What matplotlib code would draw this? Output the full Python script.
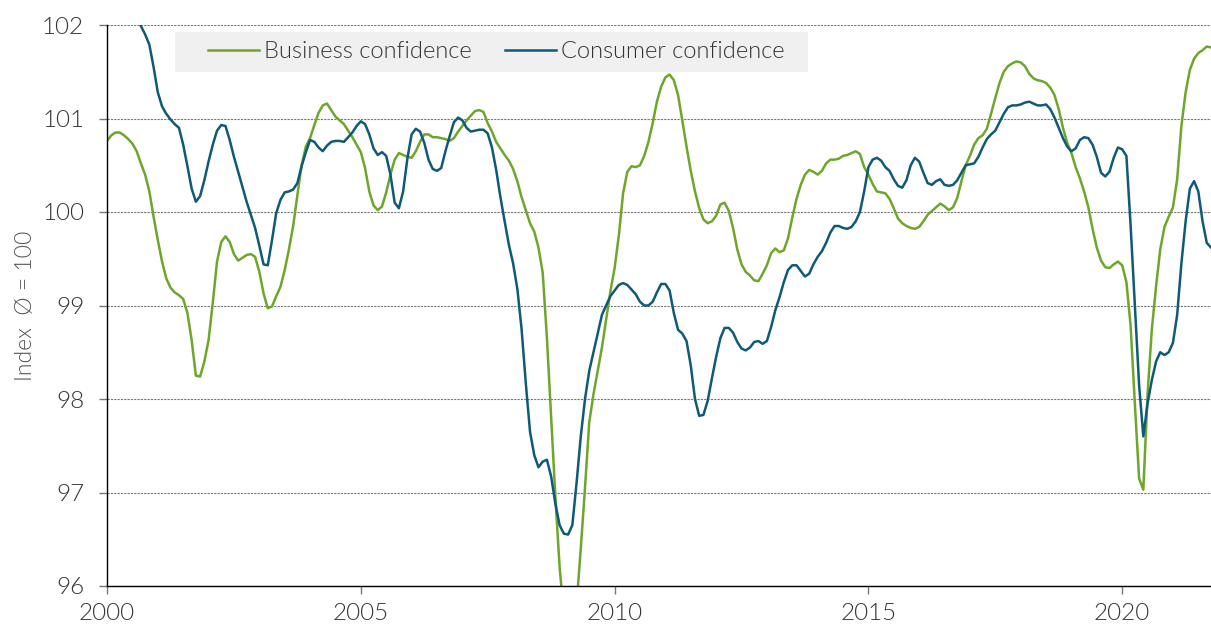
import os

import matplotlib.pyplot as plt
import numpy as np
from matplotlib import font_manager
from matplotlib.patches import Rectangle

# monthly index values, Jan 2000 .. Oct 2021
business = [
    # 2000
    100.76, 100.82, 100.85, 100.85, 100.82, 100.78, 100.73, 100.65, 100.52, 100.40, 100.22, 99.95,
    # 2001
    99.70, 99.47, 99.29, 99.19, 99.14, 99.11, 99.07, 98.92, 98.63, 98.25, 98.24, 98.40,
    # 2002
    98.63, 99.03, 99.47, 99.68, 99.74, 99.68, 99.55, 99.48, 99.51, 99.54, 99.55, 99.52,
    # 2003
    99.36, 99.13, 98.97, 98.99, 99.10, 99.20, 99.38, 99.60, 99.85, 100.18, 100.50, 100.70,
    # 2004
    100.79, 100.93, 101.06, 101.14, 101.16, 101.09, 101.02, 100.98, 100.94, 100.87, 100.80, 100.72,
    # 2005
    100.64, 100.47, 100.22, 100.07, 100.02, 100.06, 100.21, 100.40, 100.56, 100.63, 100.61, 100.59,
    # 2006
    100.58, 100.65, 100.75, 100.83, 100.83, 100.80, 100.80, 100.79, 100.78, 100.76, 100.79, 100.86,
    # 2007
    100.92, 100.98, 101.03, 101.08, 101.09, 101.07, 100.95, 100.86, 100.75, 100.68, 100.61, 100.55,
    # 2008
    100.46, 100.33, 100.16, 100.02, 99.88, 99.79, 99.62, 99.35, 98.65, 97.80, 96.95, 96.20,
    # 2009
    95.70, 95.50, 95.50, 95.80, 96.40, 97.05, 97.75, 98.05, 98.30, 98.55, 98.85, 99.15,
    # 2010
    99.40, 99.75, 100.20, 100.43, 100.49, 100.48, 100.50, 100.60, 100.75, 100.95, 101.18, 101.34,
    # 2011
    101.44, 101.47, 101.41, 101.25, 100.98, 100.70, 100.44, 100.22, 100.04, 99.92, 99.88, 99.90,
    # 2012
    99.96, 100.08, 100.10, 100.01, 99.83, 99.60, 99.44, 99.36, 99.32, 99.27, 99.26, 99.34,
    # 2013
    99.43, 99.56, 99.61, 99.57, 99.59, 99.72, 99.94, 100.14, 100.29, 100.40, 100.45, 100.43,
    # 2014
    100.40, 100.44, 100.52, 100.56, 100.56, 100.57, 100.60, 100.61, 100.63, 100.65, 100.62, 100.48,
    # 2015
    100.40, 100.30, 100.22, 100.21, 100.20, 100.14, 100.04, 99.93, 99.88, 99.85, 99.83, 99.82,
    # 2016
    99.84, 99.90, 99.97, 100.01, 100.05, 100.09, 100.06, 100.02, 100.05, 100.15, 100.33, 100.50,
    # 2017
    100.60, 100.72, 100.79, 100.82, 100.89, 101.05, 101.22, 101.38, 101.50, 101.56, 101.59, 101.61,
    # 2018
    101.60, 101.56, 101.48, 101.43, 101.41, 101.40, 101.38, 101.33, 101.25, 101.10, 100.90, 100.74,
    # 2019
    100.63, 100.48, 100.36, 100.22, 100.05, 99.82, 99.62, 99.48, 99.41, 99.40, 99.44, 99.47,
    # 2020
    99.43, 99.25, 98.78, 97.95, 97.15, 97.03, 98.05, 98.74, 99.20, 99.60, 99.84, 99.95,
    # 2021
    100.05, 100.35, 100.92, 101.28, 101.52, 101.64, 101.70, 101.73, 101.77, 101.76,
]

consumer = [
    # 2000
    103.00, 102.95, 102.85, 102.75, 102.60, 102.45, 102.30, 102.15, 101.99, 101.90, 101.79, 101.55,
    # 2001
    101.28, 101.13, 101.05, 100.99, 100.94, 100.90, 100.72, 100.49, 100.25, 100.11, 100.17, 100.34,
    # 2002
    100.54, 100.72, 100.87, 100.93, 100.92, 100.77, 100.59, 100.43, 100.27, 100.11, 99.97, 99.83,
    # 2003
    99.64, 99.44, 99.43, 99.70, 99.99, 100.13, 100.21, 100.22, 100.24, 100.31, 100.49, 100.64,
    # 2004
    100.77, 100.75, 100.69, 100.65, 100.71, 100.75, 100.76, 100.76, 100.75, 100.80, 100.85, 100.92,
    # 2005
    100.97, 100.94, 100.83, 100.68, 100.61, 100.64, 100.60, 100.40, 100.10, 100.04, 100.22, 100.57,
    # 2006
    100.83, 100.89, 100.86, 100.74, 100.56, 100.46, 100.44, 100.47, 100.65, 100.81, 100.96, 101.01,
    # 2007
    100.98, 100.90, 100.86, 100.87, 100.88, 100.88, 100.84, 100.69, 100.45, 100.16, 99.90, 99.65,
    # 2008
    99.45, 99.18, 98.75, 98.17, 97.65, 97.40, 97.27, 97.33, 97.35, 97.17, 96.88, 96.65,
    # 2009
    96.56, 96.55, 96.65, 97.10, 97.60, 98.00, 98.30, 98.50, 98.70, 98.90, 99.00, 99.10,
    # 2010
    99.16, 99.22, 99.24, 99.22, 99.17, 99.12, 99.04, 99.00, 99.00, 99.04, 99.14, 99.23,
    # 2011
    99.23, 99.16, 98.92, 98.74, 98.70, 98.62, 98.36, 98.00, 97.82, 97.83, 97.98, 98.22,
    # 2012
    98.45, 98.65, 98.76, 98.76, 98.71, 98.61, 98.54, 98.52, 98.55, 98.61, 98.62, 98.59,
    # 2013
    98.62, 98.77, 98.95, 99.09, 99.25, 99.38, 99.43, 99.43, 99.37, 99.31, 99.34, 99.44,
    # 2014
    99.52, 99.58, 99.67, 99.78, 99.85, 99.85, 99.83, 99.82, 99.84, 99.90, 100.00, 100.22,
    # 2015
    100.48, 100.56, 100.58, 100.55, 100.48, 100.44, 100.35, 100.28, 100.26, 100.34, 100.50, 100.58,
    # 2016
    100.54, 100.42, 100.31, 100.29, 100.33, 100.35, 100.29, 100.28, 100.29, 100.34, 100.42, 100.50,
    # 2017
    100.51, 100.52, 100.59, 100.69, 100.78, 100.83, 100.87, 100.96, 101.05, 101.12, 101.14, 101.14,
    # 2018
    101.15, 101.17, 101.18, 101.16, 101.14, 101.14, 101.15, 101.10, 101.01, 100.90, 100.79, 100.70,
    # 2019
    100.65, 100.68, 100.77, 100.80, 100.79, 100.72, 100.59, 100.42, 100.38, 100.43, 100.58, 100.69,
    # 2020
    100.67, 100.60, 99.85, 99.00, 98.15, 97.60, 97.95, 98.20, 98.40, 98.50, 98.47, 98.50,
    # 2021
    98.60, 98.90, 99.45, 99.90, 100.25, 100.33, 100.22, 99.90, 99.67, 99.62,
]

year_ticks = [2000, 2005, 2010, 2015, 2020]
y_ticks = [96, 97, 98, 99, 100, 101, 102]

GREEN = "#6EA62B"
BLUE = "#0F5A76"
TEXT = "#333333"

plt.rcParams["font.family"] = ["Lato", "DejaVu Sans"]


def lato_light(size):
    # matplotlib mis-reads the Lato weights, so point at the Light file itself
    for path in font_manager.findSystemFonts():
        if os.path.basename(path) == "Lato-Light.ttf":
            return font_manager.FontProperties(fname=path, size=size)
    return font_manager.FontProperties(family=["Lato", "DejaVu Sans"], size=size)


months = np.arange(len(business))
x = 2000 + months / 12

fig = plt.figure(figsize=(12.11, 6.25), dpi=100)
ax = fig.add_axes([0.0884, 0.0624, 0.9116, 0.8976])

ax.plot(x, business, color=GREEN, linewidth=1.8, label="Business confidence")
ax.plot(x, consumer, color=BLUE, linewidth=1.8, label="Consumer confidence")

ax.set_xlim(2000, x[-1])
ax.set_ylim(96, 102)
ax.set_xticks(year_ticks)
ax.set_yticks(y_ticks)
ax.set_xticklabels([str(v) for v in year_ticks])
ax.set_yticklabels([str(v) for v in y_ticks])

ax.grid(axis="y", color="#777777", linestyle=(0, (2, 1)), linewidth=0.8)
ax.set_axisbelow(True)

for side in ["top", "right"]:
    ax.spines[side].set_visible(False)
for side in ["left", "bottom"]:
    ax.spines[side].set_color("black")
    ax.spines[side].set_linewidth(1.0)

ax.tick_params(axis="both", color="#777777", length=6, width=1.0)
ax.tick_params(axis="both", labelcolor=TEXT)
ax.tick_params(axis="y", pad=10.5)
ax.tick_params(axis="x", pad=6)
tick_font = lato_light(17.5)
for lbl in ax.get_xticklabels() + ax.get_yticklabels():
    lbl.set_fontproperties(tick_font)

ax.set_ylabel("Index  Ø = 100", fontproperties=lato_light(16.5), color="#555555", labelpad=4)

# grey legend panel, drawn inside the axes so the legend can sit on top
panel = Rectangle((175 / 1211, 1 - 72 / 625), 633 / 1211, 40 / 625,
                  transform=fig.transFigure, facecolor="#F0F0F0", edgecolor="none",
                  zorder=4, clip_on=False)
ax.add_patch(panel)

leg = ax.legend(
    loc="center left",
    bbox_to_anchor=(208 / 1211, 1 - 52 / 625),
    bbox_transform=fig.transFigure,
    ncol=2,
    frameon=False,
    prop=lato_light(17),
    handlelength=2.15,
    handletextpad=0.22,
    columnspacing=1.4,
    borderpad=0,
    borderaxespad=0,
)
leg.set_zorder(5)
for t in leg.get_texts():
    t.set_color(TEXT)

fig.savefig("out.png", dpi=100)
